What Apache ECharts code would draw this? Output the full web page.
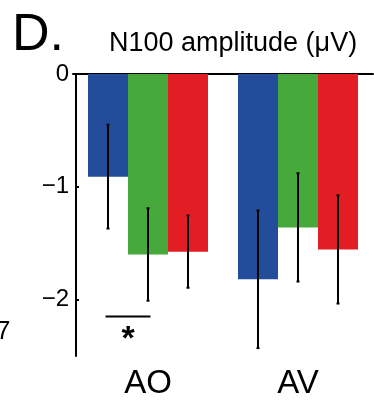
<!DOCTYPE html>
<html>
<head>
<meta charset="utf-8">
<script src="https://cdn.jsdelivr.net/npm/echarts@6/dist/echarts.min.js"></script>
<style>
  html, body { margin: 0; padding: 0; background: #fff; }
  #chart { width: 374px; height: 402px; }
</style>
</head>
<body>
<div id="chart"></div>
<script>
// N100 amplitude per condition (µV)
const categories = ["AO", "AV"]
const seriesNames = ["blue", "green", "red"]
const means = [
  [-0.91, -1.82],   // blue
  [-1.60, -1.36],   // green
  [-1.575, -1.555]  // red
]
const errors = [
  [0.46, 0.61],
  [0.41, 0.48],
  [0.32, 0.48]
]
const yTicks = [0, -1, -2]
const sigValue = -2.15

const colors = ["#234c9a", "#47a93c", "#e31d24"]
const font = "Liberation Sans, Arial, Helvetica, sans-serif"
const barW = 40

const chart = echarts.init(document.getElementById("chart"))

// error bars for one colour, offset within the category band
function errSeries(i) {
  return {
    type: "custom",
    z: 5,
    data: categories.map((c, k) => [k, means[i][k] - errors[i][k], means[i][k] + errors[i][k]]),
    renderItem: function (params, api) {
      const off = (i - 1) * barW
      const lo = api.coord([api.value(0), api.value(1)])
      const hi = api.coord([api.value(0), api.value(2)])
      const x = lo[0] + off
      const st = { stroke: "#000", lineWidth: 2 }
      return {
        type: "group",
        children: [
          { type: "line", shape: { x1: x, y1: lo[1], x2: x, y2: hi[1] }, style: st },
          { type: "line", shape: { x1: x - 1.5, y1: lo[1], x2: x + 1.5, y2: lo[1] }, style: st },
          { type: "line", shape: { x1: x - 1.5, y1: hi[1], x2: x + 1.5, y2: hi[1] }, style: st }
        ]
      }
    }
  }
}

const series = seriesNames.map((n, i) => ({
  name: n,
  type: "bar",
  barWidth: barW,
  barGap: "0%",
  itemStyle: { color: colors[i] },
  data: means[i]
}))
seriesNames.forEach((n, i) => series.push(errSeries(i)))

// significance marker between blue and green in AO
series.push({
  type: "custom",
  z: 5,
  data: [[0, sigValue]],
  renderItem: function (params, api) {
    const p = api.coord([api.value(0), api.value(1)])
    const x1 = p[0] - barW - 2.5
    const x2 = p[0] + 2.5
    return {
      type: "group",
      children: [
        { type: "line", shape: { x1: x1, y1: p[1], x2: x2, y2: p[1] }, style: { stroke: "#000", lineWidth: 2 } },
        { type: "text", x: (x1 + x2) / 2, y: p[1] + 6,
          style: { text: "*", font: "bold 34px " + font, fill: "#000", align: "center", verticalAlign: "top" } }
      ]
    }
  }
})

chart.setOption({
  animation: false,
  grid: { left: 73, right: 1, top: 74, bottom: 46 },
  xAxis: [
    {
      type: "category",
      data: categories,
      position: "top",
      axisLine: { lineStyle: { color: "#000", width: 2 } },
      axisTick: { show: false },
      axisLabel: { show: false }
    },
    {
      type: "category",
      data: categories,
      position: "bottom",
      axisLine: { show: false },
      axisTick: { show: false },
      axisLabel: { color: "#000", fontSize: 33, fontFamily: font, margin: 11 }
    }
  ],
  yAxis: {
    type: "value",
    min: -2.5,
    max: 0,
    interval: 0.5,
    offset: -3,
    splitLine: { show: false },
    axisLine: { show: true, lineStyle: { color: "#000", width: 2 } },
    axisTick: { show: true, inside: true, length: 3, customValues: yTicks, lineStyle: { color: "#000", width: 2 } },
    axisLabel: {
      customValues: yTicks,
      color: "#000",
      fontSize: 24,
      fontFamily: font,
      margin: 7,
      formatter: v => v === 0 ? "0" : "\u2212" + Math.abs(v)
    }
  },
  graphic: [
    { type: "text", left: 12, top: 10, style: { text: "D.", font: "52px " + font, fill: "#000" } },
    { type: "text", left: 109, top: 30, style: { text: "N100 amplitude (\u03bcV)", font: "27px " + font, fill: "#000" } },
    { type: "text", left: -4, top: 319, style: { text: "7", font: "26px " + font, fill: "#000" } }
  ],
  series: series
})
</script>
</body>
</html>
